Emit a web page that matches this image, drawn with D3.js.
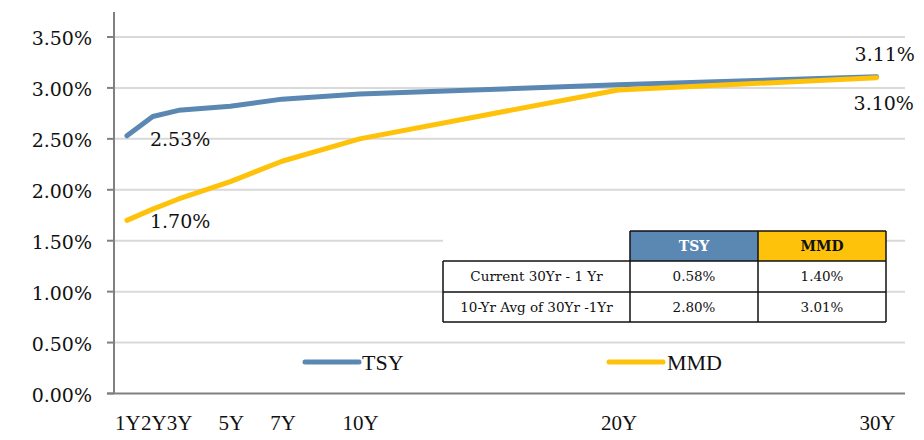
<!DOCTYPE html>
<html><head><meta charset="utf-8">
<script src="https://cdn.jsdelivr.net/npm/d3@7"></script>
<style>body{margin:0;background:#fff}svg{display:block}</style>
</head><body>
<svg id="c" width="924" height="440"></svg>
<script>
const maturities = [1, 2, 3, 5, 7, 10, 20, 30];
const tickLabels = ["1Y", "2Y", "3Y", "5Y", "7Y", "10Y", "20Y", "30Y"];
const tsy = [2.53, 2.72, 2.78, 2.82, 2.89, 2.94, 3.03, 3.11];
const mmd = [1.70, 1.81, 1.91, 2.08, 2.28, 2.50, 2.98, 3.10];
const yTicks = [0, 0.5, 1.0, 1.5, 2.0, 2.5, 3.0, 3.5];
const tableCols = ["TSY", "MMD"];
const tableRows = ["Current 30Yr - 1 Yr", "10-Yr Avg of 30Yr -1Yr"];
const tableTsy = ["0.58%", "2.80%"];
const tableMmd = ["1.40%", "3.01%"];

const BLUE = "#5B87B3", GOLD = "#FFC20A";
const svg = d3.select("#c");
const x = d3.scaleLinear().domain([0.5, 31.1]).range([114, 905]);
const y = d3.scaleLinear().domain([0, 3.5]).range([393.5, 37]);
const numFont = "DejaVu Serif", txtFont = "Liberation Serif";

// gridlines
svg.append("g").selectAll("line").data(yTicks.filter(d => d > 0)).join("line")
  .attr("x1", 114).attr("x2", 905).attr("y1", d => y(d)).attr("y2", d => y(d))
  .attr("stroke", "#D9D9D9").attr("stroke-width", 2);

// y axis
const ya = svg.append("g");
ya.append("line").attr("x1", 114).attr("x2", 114).attr("y1", 12).attr("y2", y(0)).attr("stroke", "#808080").attr("stroke-width", 2);
ya.selectAll(".tk").data(yTicks).join("line").attr("class", "tk")
  .attr("x1", 107).attr("x2", 114).attr("y1", d => y(d)).attr("y2", d => y(d))
  .attr("stroke", "#808080").attr("stroke-width", 2);
ya.selectAll("text").data(yTicks).join("text")
  .attr("x", 92).attr("y", d => y(d) + 8).attr("text-anchor", "end")
  .attr("font-family", numFont).attr("font-size", 19).attr("fill", "#111")
  .text(d => d3.format(".2f")(d) + "%");

// x axis
svg.append("line").attr("x1", 107).attr("x2", 905).attr("y1", y(0)).attr("y2", y(0)).attr("stroke", "#808080").attr("stroke-width", 2);
svg.append("g").selectAll("text").data(maturities).join("text")
  .attr("x", d => x(d) + 1).attr("y", 430).attr("text-anchor", "middle")
  .attr("font-family", txtFont).attr("font-size", 21).attr("fill", "#111")
  .text((d, i) => tickLabels[i]);

// lines
const line = d3.line().x(d => x(d[0])).y(d => y(d[1]));
svg.append("path").datum(maturities.map((m, i) => [m, tsy[i]]))
  .attr("d", line).attr("fill", "none").attr("stroke", BLUE).attr("stroke-width", 5)
  .attr("stroke-linecap", "round").attr("stroke-linejoin", "round");
svg.append("path").datum(maturities.map((m, i) => [m, mmd[i]]))
  .attr("d", line).attr("fill", "none").attr("stroke", GOLD).attr("stroke-width", 5)
  .attr("stroke-linecap", "round").attr("stroke-linejoin", "round");

// data labels
const lbl = (xx, yy, t) => svg.append("text").attr("x", xx).attr("y", yy)
  .attr("font-family", numFont).attr("font-size", 19).attr("fill", "#111").text(t);
const fmt = v => v.toFixed(2) + "%";
lbl(x(1) + 23, y(tsy[0]) + 10, fmt(tsy[0]));
lbl(x(1) + 23, y(mmd[0]) + 8, fmt(mmd[0]));
lbl(x(30) - 22, y(tsy[7]) - 16, fmt(tsy[7]));
lbl(x(30) - 23, y(mmd[7]) + 32, fmt(mmd[7]));

// legend
const leg = [["TSY", BLUE, 305, 362], ["MMD", GOLD, 609, 667]];
leg.forEach(([t, c, x0, tx]) => {
  svg.append("line").attr("x1", x0).attr("x2", x0 + 54).attr("y1", 362).attr("y2", 362)
    .attr("stroke", c).attr("stroke-width", 5).attr("stroke-linecap", "round");
  svg.append("text").attr("x", tx).attr("y", 370).attr("font-family", txtFont)
    .attr("font-size", 22).attr("fill", "#111").text(t);
});

// table
const tb = svg.append("g");
const cx = [443, 630, 758, 886], ry = [231, 261, 292, 322];
tb.append("rect").attr("x", cx[0]).attr("y", ry[0]).attr("width", cx[3] - cx[0]).attr("height", ry[3] - ry[0]).attr("fill", "#fff");
tb.append("rect").attr("x", cx[1]).attr("y", ry[0]).attr("width", cx[2] - cx[1]).attr("height", ry[1] - ry[0]).attr("fill", BLUE);
tb.append("rect").attr("x", cx[2]).attr("y", ry[0]).attr("width", cx[3] - cx[2]).attr("height", ry[1] - ry[0]).attr("fill", GOLD);
const bl = (x1, y1, x2, y2) => tb.append("line").attr("x1", x1).attr("y1", y1).attr("x2", x2).attr("y2", y2).attr("stroke", "#111").attr("stroke-width", 1.5);
bl(cx[1], ry[0], cx[3], ry[0]);
bl(cx[0], ry[1], cx[3], ry[1]);
bl(cx[0], ry[2], cx[3], ry[2]);
bl(cx[0], ry[3], cx[3], ry[3]);
bl(cx[0], ry[1], cx[0], ry[3]);
bl(cx[1], ry[0], cx[1], ry[3]);
bl(cx[2], ry[0], cx[2], ry[3]);
bl(cx[3], ry[0], cx[3], ry[3]);
const tt = (xx, yy, t, opts = {}) => tb.append("text").attr("x", xx).attr("y", yy).attr("text-anchor", "middle")
  .attr("font-family", numFont).attr("font-size", opts.size || 13.5).attr("font-weight", opts.bold ? "bold" : "normal")
  .attr("fill", opts.fill || "#111").text(t);
tt((cx[1] + cx[2]) / 2, ry[0] + 20, tableCols[0], {bold: true, fill: "#fff", size: 14});
tt((cx[2] + cx[3]) / 2, ry[0] + 20, tableCols[1], {bold: true, size: 14});
tableRows.forEach((r, i) => {
  tt((cx[0] + cx[1]) / 2, ry[i + 1] + 20, r);
  tt((cx[1] + cx[2]) / 2, ry[i + 1] + 20, tableTsy[i]);
  tt((cx[2] + cx[3]) / 2, ry[i + 1] + 20, tableMmd[i]);
});
</script>
</body></html>
